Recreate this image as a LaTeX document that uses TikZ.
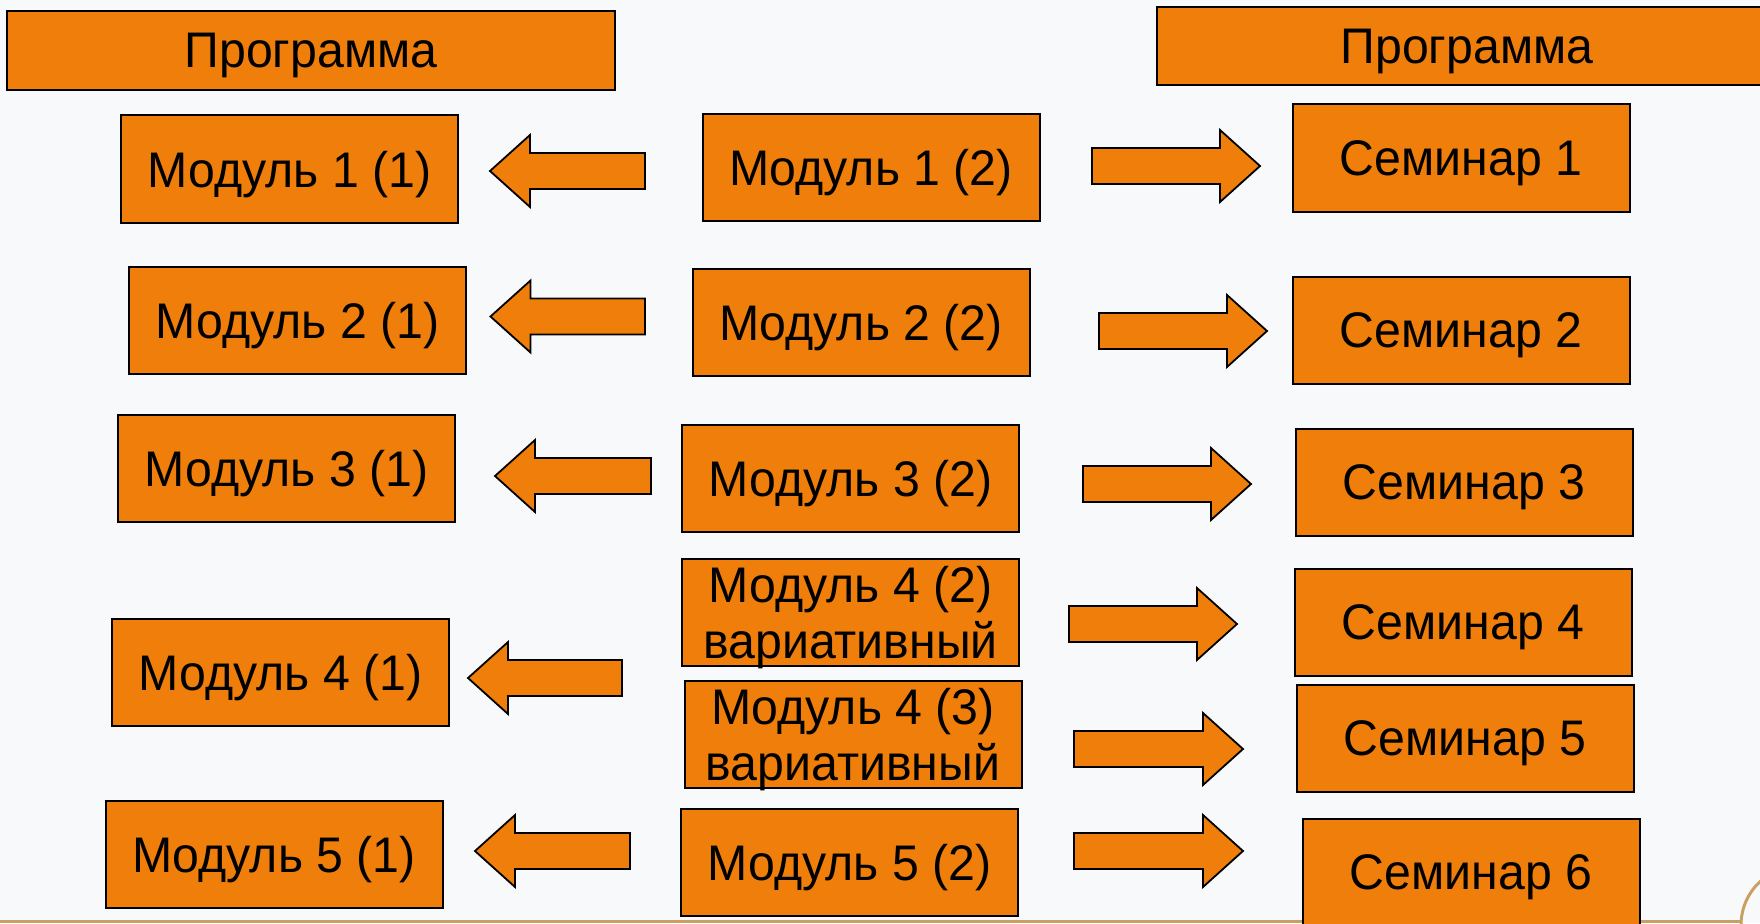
\documentclass[tikz,border=0pt]{standalone}
\usepackage{fontspec}
\setmainfont[FakeStretch=0.965]{Liberation Sans}
\definecolor{boxorange}{RGB}{239,127,10}
\definecolor{bgcol}{RGB}{248,249,251}
\definecolor{linetan}{RGB}{200,160,100}
\tikzset{
  box/.style={draw=black, fill=boxorange, line width=2pt, inner sep=0pt,
    font=\fontsize{50}{56}\selectfont, text depth=0pt, align=center,
    minimum width=337pt, minimum height=107pt},
  blockarrow/.style={draw=black, fill=boxorange, line width=1.8pt, line join=miter}
}
\newcommand\blockL[3]{% tipx, y, rightx
  \draw[blockarrow] (#1,#2) -- (#1+40,#2-36) -- (#1+40,#2-18) -- (#3,#2-18)
    -- (#3,#2+18) -- (#1+40,#2+18) -- (#1+40,#2+36) -- cycle;}
\newcommand\blockR[3]{% leftx, y, tipx
  \draw[blockarrow] (#1,#2-18) -- (#3-40,#2-18) -- (#3-40,#2-36) -- (#3,#2)
    -- (#3-40,#2+36) -- (#3-40,#2+18) -- (#1,#2+18) -- cycle;}
\begin{document}
\begin{tikzpicture}[x=1pt,y=-1pt]
\useasboundingbox (0,0) rectangle (1760,923);
\fill[bgcol] (0,0) rectangle (1760,923);
% bottom decoration
\draw[linetan, line width=3pt] (0,921) -- (1741,921);
\draw[linetan, line width=3pt] (1741,925) arc[start angle=180, end angle=230, radius=59];
% headers
\node[box, minimum width=608pt, minimum height=79pt] (progL) at (311,50.5) {Программа};
\node[box, minimum width=620pt, minimum height=78pt] (progR) at (1467,46) {Программа};
% left column
\node[box] (m11) at (289.5,169) {Модуль 1 (1)};
\node[box] (m21) at (297.5,320.5) {Модуль 2 (1)};
\node[box] (m31) at (286.5,468.5) {Модуль 3 (1)};
\node[box] (m41) at (280.5,672) {Модуль 4 (1)};
\node[box] (m51) at (274,854.5) {Модуль 5 (1)};
% middle column
\node[box] (m12) at (871,167.5) {Модуль 1 (2)};
\node[box] (m22) at (861,322.5) {Модуль 2 (2)};
\node[box] (m32) at (850.5,478.5) {Модуль 3 (2)};
\node[box] (m42) at (850.5,612) {Модуль 4 (2)\\вариативный};
\node[box] (m43) at (853,734) {Модуль 4 (3)\\вариативный};
\node[box] (m52) at (849.5,862) {Модуль 5 (2)};
% right column
\node[box] (s1) at (1461,158) {Семинар 1};
\node[box] (s2) at (1461,330) {Семинар 2};
\node[box] (s3) at (1464,482.5) {Семинар 3};
\node[box] (s4) at (1463,622) {Семинар 4};
\node[box] (s5) at (1465,738.5) {Семинар 5};
\node[box] (s6) at (1471,872) {Семинар 6};
% left arrows
\blockL{490}{171}{645}
\blockL{490.5}{316.5}{645}
\blockL{495}{476}{651}
\blockL{468}{678}{622}
\blockL{475}{851}{630}
% right arrows
\blockR{1092}{166}{1260}
\blockR{1099}{331}{1267}
\blockR{1083}{484}{1251}
\blockR{1069}{624}{1237}
\blockR{1074}{749}{1243}
\blockR{1074}{851}{1243}
\end{tikzpicture}
\end{document}
